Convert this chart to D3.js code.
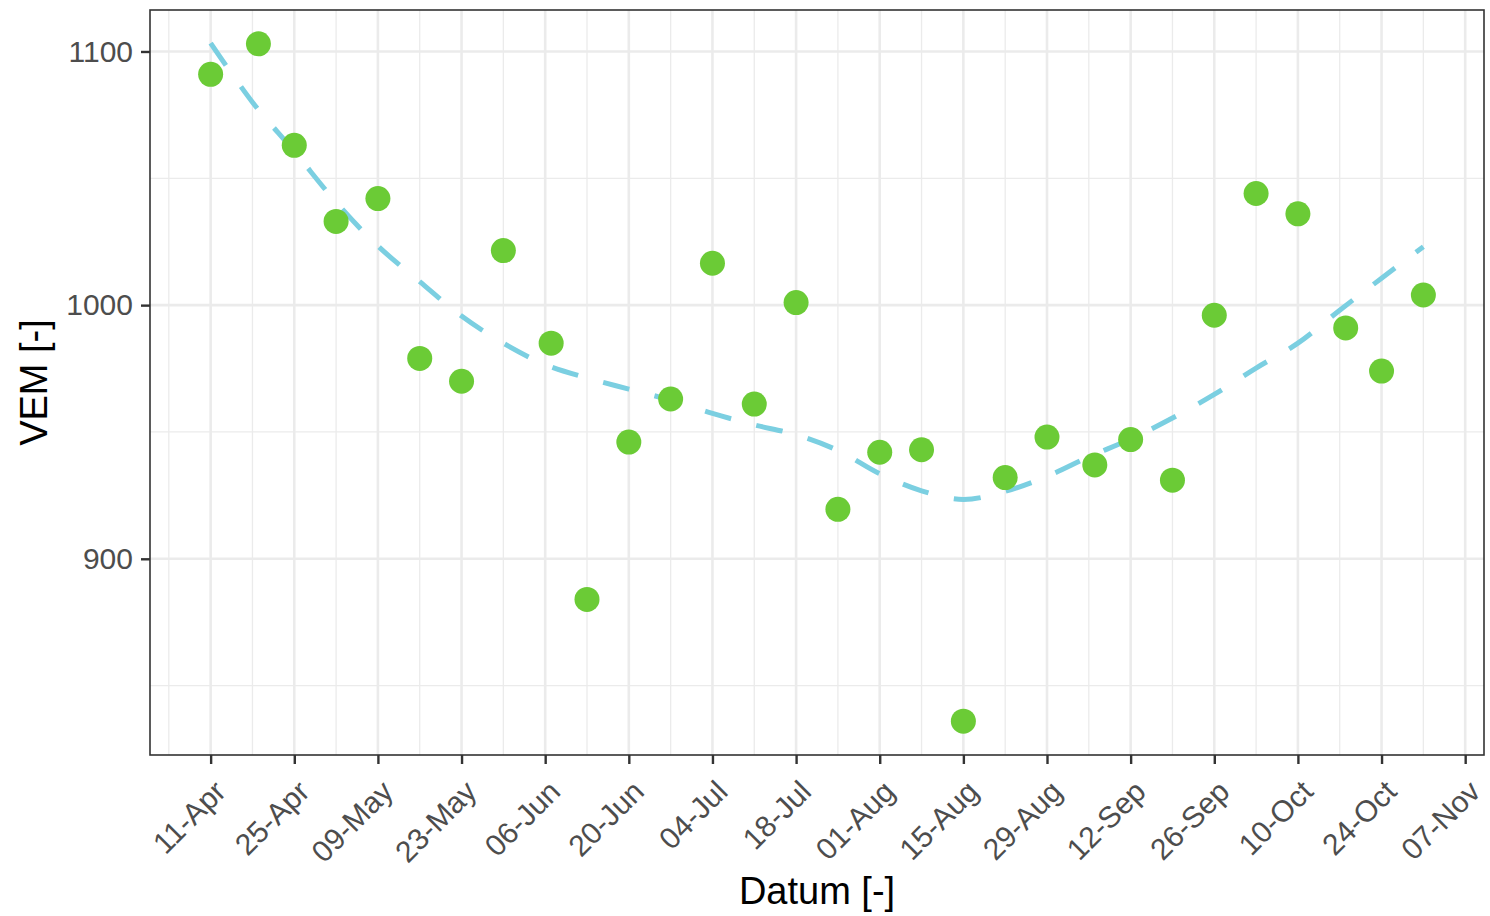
<!DOCTYPE html>
<html>
<head>
<meta charset="utf-8">
<script src="https://cdn.jsdelivr.net/npm/d3@7"></script>
<style>
  body { margin: 0; background: #fff; }
  svg { display: block; font-family: "Liberation Sans", Arial, sans-serif; }
</style>
</head>
<body>
<div id="chart"></div>
<script>
// measured dates and VEM values
var dates = ["2019-04-11", "2019-04-19", "2019-04-25", "2019-05-02", "2019-05-09", "2019-05-16",
  "2019-05-23", "2019-05-30", "2019-06-07", "2019-06-13", "2019-06-20", "2019-06-27",
  "2019-07-04", "2019-07-11", "2019-07-18", "2019-07-25", "2019-08-01", "2019-08-08",
  "2019-08-15", "2019-08-22", "2019-08-29", "2019-09-06", "2019-09-12", "2019-09-19",
  "2019-09-26", "2019-10-03", "2019-10-10", "2019-10-18", "2019-10-24", "2019-10-31"];
var vem = [1091, 1103, 1063, 1033, 1042, 979, 970, 1021.5, 985, 884, 946, 963,
  1016.5, 961, 1001, 919.5, 942, 943, 836, 932, 948, 937, 947, 931,
  996, 1044, 1036, 991, 974, 1004];

// trend line (weekly)
var trendDates = ["2019-04-11", "2019-04-18", "2019-04-25", "2019-05-02", "2019-05-09", "2019-05-16",
  "2019-05-23", "2019-05-30", "2019-06-06", "2019-06-13", "2019-06-20", "2019-06-27",
  "2019-07-04", "2019-07-11", "2019-07-18", "2019-07-25", "2019-08-01", "2019-08-08",
  "2019-08-15", "2019-08-22", "2019-08-29", "2019-09-05", "2019-09-12", "2019-09-19",
  "2019-09-26", "2019-10-03", "2019-10-10", "2019-10-17", "2019-10-24", "2019-10-31"];
var trendVem = [1103.3, 1080, 1060.6, 1040.6, 1023.3, 1009.3, 995.7, 985, 976.6, 971.3, 966.9, 962.5,
  957.3, 952.8, 948.9, 942.7, 933.5, 926.8, 923.4, 926.6, 932.5, 940.2, 947.2, 955.5,
  964.8, 975.2, 985, 998, 1010.6, 1023];

var yTicks = [900, 1000, 1100];
var yMinor = [850, 950, 1050];
var xTickStart = "2019-04-11";
var xTickEnd = "2019-11-07";

var parse = d3.timeParse("%Y-%m-%d");
var points = dates.map(function(d, i) { return { date: parse(d), value: vem[i] }; });
var trend = trendDates.map(function(d, i) { return { date: parse(d), value: trendVem[i] }; });

var width = 1490, height = 916;
var margin = { top: 10, right: 6, bottom: 161, left: 150 };
var innerW = width - margin.left - margin.right;
var innerH = height - margin.top - margin.bottom;

var svg = d3.select("#chart")
  .append("svg")
  .attr("width", width)
  .attr("height", height);

var g = svg.append("g")
  .attr("transform", "translate(" + margin.left + "," + margin.top + ")");

// ggplot style 5% expansion
var xExt = d3.extent(points, function(d) { return d.date; });
var xPad = (xExt[1] - xExt[0]) * 0.05;
var xScale = d3.scaleTime()
  .domain([new Date(+xExt[0] - xPad), new Date(+xExt[1] + xPad)])
  .range([0, innerW]);

var yExt = d3.extent(points, function(d) { return d.value; });
var yPad = (yExt[1] - yExt[0]) * 0.05;
var yScale = d3.scaleLinear()
  .domain([yExt[0] - yPad, yExt[1] + yPad])
  .range([innerH, 0]);

var majorDates = d3.range(0, 16).map(function(i) {
  return d3.timeDay.offset(parse(xTickStart), i * 14);
}).filter(function(d) { return d <= parse(xTickEnd); });
var minorDates = d3.range(-1, 16).map(function(i) {
  return d3.timeDay.offset(parse(xTickStart), i * 14 + 7);
}).filter(function(d) { return xScale(d) >= 0 && xScale(d) <= innerW; });

// grid
g.selectAll(".minor-y").data(yMinor).enter().append("line")
  .attr("x1", 0).attr("x2", innerW)
  .attr("y1", function(d) { return yScale(d); })
  .attr("y2", function(d) { return yScale(d); })
  .attr("stroke", "#ebebeb").attr("stroke-width", 1.3);
g.selectAll(".minor-x").data(minorDates).enter().append("line")
  .attr("y1", 0).attr("y2", innerH)
  .attr("x1", function(d) { return xScale(d); })
  .attr("x2", function(d) { return xScale(d); })
  .attr("stroke", "#ebebeb").attr("stroke-width", 1.3);
g.selectAll(".major-y").data(yTicks).enter().append("line")
  .attr("x1", 0).attr("x2", innerW)
  .attr("y1", function(d) { return yScale(d); })
  .attr("y2", function(d) { return yScale(d); })
  .attr("stroke", "#ebebeb").attr("stroke-width", 2.6);
g.selectAll(".major-x").data(majorDates).enter().append("line")
  .attr("y1", 0).attr("y2", innerH)
  .attr("x1", function(d) { return xScale(d); })
  .attr("x2", function(d) { return xScale(d); })
  .attr("stroke", "#ebebeb").attr("stroke-width", 2.6);

// trend
var line = d3.line()
  .x(function(d) { return xScale(d.date); })
  .y(function(d) { return yScale(d.value); })
  .curve(d3.curveCatmullRom);

g.append("path")
  .datum(trend)
  .attr("d", line)
  .attr("fill", "none")
  .attr("stroke", "#7bcfe1")
  .attr("stroke-width", 5)
  .attr("stroke-dasharray", "27,26");

// points
g.selectAll("circle")
  .data(points)
  .enter()
  .append("circle")
  .attr("cx", function(d) { return xScale(d.date); })
  .attr("cy", function(d) { return yScale(d.value); })
  .attr("r", 12.5)
  .attr("fill", "#6bcb36");

// panel border
g.append("rect")
  .attr("width", innerW).attr("height", innerH)
  .attr("fill", "none").attr("stroke", "#333333").attr("stroke-width", 1.6);

// axes
var fmt = d3.timeFormat("%d-%b");
var xAxis = d3.axisBottom(xScale).tickValues(majorDates).tickFormat(fmt).tickSize(9).tickSizeOuter(0);
var xg = g.append("g").attr("transform", "translate(0," + innerH + ")").call(xAxis);
xg.select(".domain").remove();
xg.selectAll(".tick line").attr("stroke", "#333333").attr("stroke-width", 2.4);
xg.selectAll(".tick text")
  .attr("fill", "#4d4d4d")
  .style("font-size", "30px")
  .style("font-family", "Liberation Sans, Arial, sans-serif")
  .attr("text-anchor", "end")
  .attr("x", 0).attr("y", 0).attr("dy", "0.35em")
  .attr("transform", "translate(9,31) rotate(-45)");

var yAxis = d3.axisLeft(yScale).tickValues(yTicks).tickFormat(d3.format("d")).tickSize(9).tickSizeOuter(0);
var yg = g.append("g").call(yAxis);
yg.select(".domain").remove();
yg.selectAll(".tick line").attr("stroke", "#333333").attr("stroke-width", 2.4);
yg.selectAll(".tick text")
  .attr("fill", "#4d4d4d")
  .attr("x", -17)
  .style("font-size", "30px")
  .style("font-family", "Liberation Sans, Arial, sans-serif");

// titles
svg.append("text")
  .attr("x", margin.left + innerW / 2)
  .attr("y", 904)
  .attr("text-anchor", "middle")
  .style("font-size", "38px")
  .attr("fill", "#000")
  .text("Datum [-]");

svg.append("text")
  .attr("transform", "translate(47," + (margin.top + innerH / 2) + ") rotate(-90)")
  .attr("text-anchor", "middle")
  .style("font-size", "38px")
  .attr("fill", "#000")
  .text("VEM [-]");
</script>
</body>
</html>
